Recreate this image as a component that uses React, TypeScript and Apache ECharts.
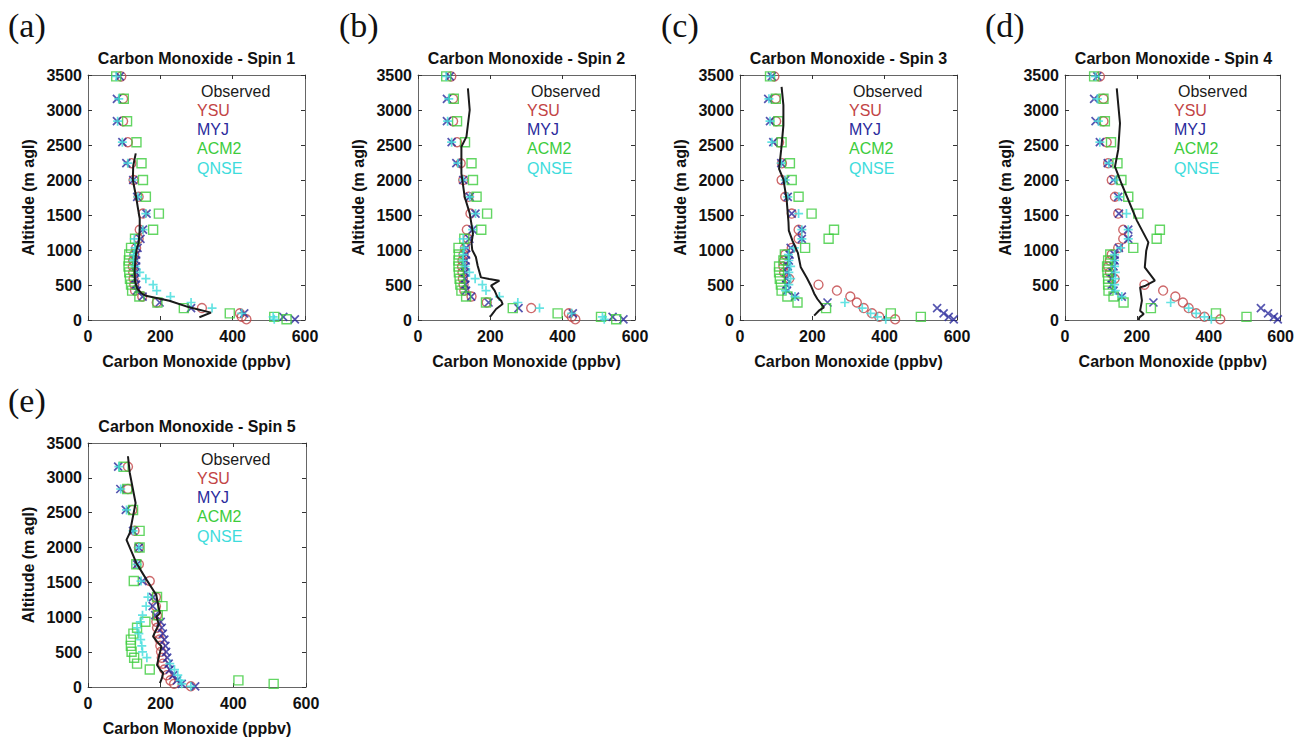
import React, { useEffect, useRef } from "react";
import * as echarts from "echarts";

// Model levels (m agl) shared by all WRF PBL schemes
const LEVELS = [10, 45, 95, 170, 250, 335, 420, 505, 590, 680, 765, 850, 935, 1030, 1160, 1290, 1520, 1760, 2000, 2240, 2540, 2840, 3160, 3480];

const X_MIN = 0, X_MAX = 600, X_STEP = 200;
const Y_MIN = 0, Y_MAX = 3500, Y_STEP = 500;

const SERIES_NAMES = ["Observed", "YSU", "MYJ", "ACM2", "QNSE"];
const PANEL_TAGS = ["(a)", "(b)", "(c)", "(d)", "(e)"];
const PANEL_TITLES = [
  "Carbon Monoxide - Spin 1",
  "Carbon Monoxide - Spin 2",
  "Carbon Monoxide - Spin 3",
  "Carbon Monoxide - Spin 4",
  "Carbon Monoxide - Spin 5",
];
const X_NAME = "Carbon Monoxide (ppbv)";
const Y_NAME = "Altitude (m agl)";

// Spin 1
const YSU1 = [438, 425, 420, 315, 190, 150, 130, 128, 126, 125, 124, 125, 128, 133, 140, 143, 152, 140, 126, 120, 110, 97, 97, 92];
const MYJ1 = [572, 540, 432, 285, 198, 151, 135, 133, 131, 132, 133, 133, 133, 137, 145, 152, 162, 136, 125, 106, 95, 80, 80, 88];
const ACM2_1 = [549, 515, 392, 265, 192, 142, 122, 119, 116, 114, 112, 113, 114, 119, 130, 180, 196, 160, 152, 148, 134, 108, 99, 78];
const QNSE1 = [515, 512, 425, 343, 285, 228, 190, 180, 160, 143, 130, 126, 126, 130, 128, 152, 160, 138, 125, 110, 95, 82, 85, 78];
const OBS1_CO = [132, 125, 124, 133, 138, 143, 143, 140, 134, 131, 129, 130, 136, 148, 160, 225, 280, 340, 308];
const OBS1_ALT = [2380, 2200, 2000, 1760, 1600, 1450, 1290, 1100, 1000, 850, 700, 550, 450, 380, 345, 276, 181, 105, 40];

// Spin 2
const YSU2 = [435, 425, 417, 313, 190, 148, 128, 126, 124, 123, 122, 123, 126, 130, 138, 135, 145, 140, 125, 118, 108, 97, 97, 92];
const MYJ2 = [568, 538, 428, 278, 195, 147, 133, 131, 130, 130, 131, 132, 133, 133, 142, 151, 159, 143, 125, 106, 93, 80, 80, 88];
const ACM2_2 = [548, 506, 386, 262, 188, 133, 120, 117, 115, 113, 112, 112, 113, 112, 128, 175, 191, 162, 152, 148, 130, 108, 99, 78];
const QNSE2 = [515, 510, 425, 336, 276, 225, 188, 178, 158, 142, 130, 125, 125, 128, 125, 151, 159, 143, 125, 110, 93, 82, 85, 78];
const OBS2_CO = [138, 143, 134, 120, 120, 129, 143, 152, 148, 150, 160, 165, 174, 197, 225, 202, 212, 220, 230, 234, 216, 202, 198];
const OBS2_ALT = [3310, 3000, 2620, 2475, 2094, 1761, 1523, 1238, 1100, 1000, 900, 776, 609, 585, 562, 490, 420, 324, 276, 228, 157, 62, 45];

// Spin 3
const YSU3 = [429, 385, 365, 342, 323, 305, 268, 217, 136, 122, 120, 122, 125, 143, 162, 162, 143, 125, 115, 116, 108, 100, 99, 95];
const MYJ3 = [591, 577, 563, 545, 242, 152, 130, 128, 128, 130, 132, 135, 137, 140, 171, 171, 143, 132, 125, 114, 92, 83, 78, 88];
const ACM2_3 = [null, 500, 417, 238, 159, 131, 115, 113, 110, 108, 108, 120, 124, 180, 245, 260, 198, 162, 143, 138, 115, 106, 99, 83];
const QNSE3 = [403, 380, 361, 338, 290, 152, 126, 135, 140, 135, 140, 135, 134, 150, 171, 171, 162, 132, 125, 114, 88, 83, 80, 85];
const OBS3_CO = [115, 120, 120, 114, 108, 120, 129, 134, 135, 145, 160, 168, 185, 196, 205, 214, 232, 218, 205];
const OBS3_ALT = [3330, 3070, 2780, 2440, 2160, 2010, 1720, 1400, 1276, 1133, 960, 752, 600, 490, 380, 300, 181, 133, 62];

// Spin 4
const YSU4 = [432, 388, 365, 344, 328, 307, 273, 221, 138, 125, 120, 125, 130, 148, 162, 162, 148, 139, 130, 120, 116, 107, 107, 97];
const MYJ4 = [592, 581, 565, 545, 246, 158, 135, 130, 130, 132, 135, 138, 138, 150, 176, 176, 150, 148, 135, 119, 97, 85, 81, 90];
const ACM2_4 = [null, 505, 420, 239, 163, 135, 121, 120, 120, 118, 117, 120, 126, 190, 255, 264, 204, 176, 157, 146, 128, 111, 107, 81];
const QNSE4 = [407, 388, 365, 344, 294, 158, 140, 138, 140, 140, 138, 138, 138, 155, 176, 176, 171, 150, 140, 122, 97, 93, 90, 85];
const OBS4_CO = [144, 153, 148, 139, 157, 177, 200, 232, 226, 222, 250, 224, 209, 214, 209, 219, 207, 205];
const OBS4_ALT = [3310, 2810, 2430, 2190, 1950, 1705, 1420, 1109, 990, 752, 562, 490, 466, 276, 133, 86, 38, 0];

// Spin 5
const YSU5 = [283, 237, 227, 217, 210, 206, 203, 201, 199, 197, 194, 190, 188, 190, 187, 187, 170, 140, 140, 128, 122, 110, 110, null];
const MYJ5 = [295, 258, 245, 235, 225, 222, 218, 215, 213, 210, 206, 203, 200, 185, 178, 179, 150, 135, 140, 124, 104, 89, 83, null];
const ACM2_5 = [null, 511, 414, null, 170, 135, 127, 120, 118, 118, 125, 135, 158, 192, 205, 190, 126, 133, 142, 142, 124, 108, 98, null];
const QNSE5 = [283, 258, 254, 247, 238, 225, 162, 150, 148, 145, 140, 135, 144, 150, 160, 165, 146, 135, 140, 124, 106, 90, 85, null];
const OBS5_CO = [110, 115, 131, 115, 106, 133, 161, 188, 192, 198, 188, 195, 179, 190, 202, 196, 190, 199, 207, 203, 198];
const OBS5_ALT = [3310, 3070, 2640, 2210, 2110, 1780, 1540, 1320, 1200, 1060, 1008, 900, 726, 650, 583, 450, 315, 244, 201, 120, 57];

const PANEL_DATA = [
  { ysu: YSU1, myj: MYJ1, acm2: ACM2_1, qnse: QNSE1, obsCo: OBS1_CO, obsAlt: OBS1_ALT },
  { ysu: YSU2, myj: MYJ2, acm2: ACM2_2, qnse: QNSE2, obsCo: OBS2_CO, obsAlt: OBS2_ALT },
  { ysu: YSU3, myj: MYJ3, acm2: ACM2_3, qnse: QNSE3, obsCo: OBS3_CO, obsAlt: OBS3_ALT },
  { ysu: YSU4, myj: MYJ4, acm2: ACM2_4, qnse: QNSE4, obsCo: OBS4_CO, obsAlt: OBS4_ALT },
  { ysu: YSU5, myj: MYJ5, acm2: ACM2_5, qnse: QNSE5, obsCo: OBS5_CO, obsAlt: OBS5_ALT },
];

// Layout (pixels)
const LAYOUT = [
  { left: 88, top: 75, width: 217, height: 245, tagX: 8, tagY: 27 },
  { left: 418, top: 75, width: 217, height: 245, tagX: 339, tagY: 27 },
  { left: 740, top: 75, width: 217, height: 245, tagX: 661, tagY: 27 },
  { left: 1065, top: 75, width: 217, height: 245, tagX: 985, tagY: 27 },
  { left: 88, top: 443, width: 218, height: 244, tagX: 8, tagY: 402 },
];

const COLORS = {
  Observed: "#1a1a1a",
  YSU: "#c24446",
  MYJ: "#2a2a9c",
  ACM2: "#3ccc3c",
  QNSE: "#3edcdc",
};

const SANS = "'Liberation Sans', Arial, Helvetica, sans-serif";
const SERIF = "'Liberation Serif', 'Times New Roman', serif";

const X_SYMBOL = "path://M0,0L10,10M0,10L10,0";
const PLUS_SYMBOL = "path://M5,0L5,10M0,5L10,5";

function pairs(vals: (number | null)[]) {
  const out: number[][] = [];
  vals.forEach((v, k) => {
    if (v !== null && v !== undefined) out.push([v, LEVELS[k]]);
  });
  return out;
}

function buildOption() {
  const grid: any[] = [];
  const xAxis: any[] = [];
  const yAxis: any[] = [];
  const series: any[] = [];
  const graphic: any[] = [];

  const tickStyle = { color: "#333", width: 1 };
  const lineStyle = { color: "#666", width: 1 };
  const plain = (v: number) => String(v);

  PANEL_DATA.forEach((p, i) => {
    const L = LAYOUT[i];
    grid.push({ left: L.left, top: L.top, width: L.width, height: L.height, containLabel: false, show: false });

    const baseX = {
      type: "value", gridIndex: i, min: X_MIN, max: X_MAX, interval: X_STEP,
      splitLine: { show: false },
      axisLine: { show: true, onZero: false, lineStyle },
      axisTick: { show: true, inside: true, length: 4, lineStyle: tickStyle },
    };
    const baseY = {
      type: "value", gridIndex: i, min: Y_MIN, max: Y_MAX, interval: Y_STEP,
      splitLine: { show: false },
      axisLine: { show: true, onZero: false, lineStyle },
      axisTick: { show: true, inside: true, length: 4, lineStyle: tickStyle },
    };
    xAxis.push({
      ...baseX, position: "bottom",
      axisLabel: { show: true, color: "#111", fontSize: 16, fontWeight: "bold", fontFamily: SANS, margin: 8, formatter: plain },
      name: X_NAME, nameLocation: "middle", nameGap: 33,
      nameTextStyle: { color: "#111", fontSize: 16, fontWeight: "bold", fontFamily: SANS },
    });
    xAxis.push({ ...baseX, position: "top", axisLabel: { show: false } });
    yAxis.push({
      ...baseY, position: "left",
      axisLabel: { show: true, color: "#111", fontSize: 16, fontWeight: "bold", fontFamily: SANS, margin: 6, formatter: plain },
      name: Y_NAME, nameLocation: "middle", nameGap: 52, nameRotate: 90,
      nameTextStyle: { color: "#111", fontSize: 16, fontWeight: "bold", fontFamily: SANS },
    });
    yAxis.push({ ...baseY, position: "right", axisLabel: { show: false } });

    const xi = 2 * i, yi = 2 * i;
    series.push({
      type: "scatter", name: "YSU", xAxisIndex: xi, yAxisIndex: yi, data: pairs(p.ysu),
      symbol: "circle", symbolSize: 9,
      itemStyle: { color: "rgba(0,0,0,0)", borderColor: COLORS.YSU, borderWidth: 1.4 },
    });
    series.push({
      type: "scatter", name: "MYJ", xAxisIndex: xi, yAxisIndex: yi, data: pairs(p.myj),
      symbol: X_SYMBOL, symbolSize: 8,
      itemStyle: { color: "none", borderColor: COLORS.MYJ, borderWidth: 1.7 },
    });
    series.push({
      type: "scatter", name: "ACM2", xAxisIndex: xi, yAxisIndex: yi, data: pairs(p.acm2),
      symbol: "rect", symbolSize: 9,
      itemStyle: { color: "rgba(0,0,0,0)", borderColor: COLORS.ACM2, borderWidth: 1.4 },
    });
    series.push({
      type: "scatter", name: "QNSE", xAxisIndex: xi, yAxisIndex: yi, data: pairs(p.qnse),
      symbol: PLUS_SYMBOL, symbolSize: 9,
      itemStyle: { color: "none", borderColor: COLORS.QNSE, borderWidth: 1.7 },
    });
    series.push({
      type: "line", name: "Observed", xAxisIndex: xi, yAxisIndex: yi,
      data: p.obsCo.map((c, k) => [c, p.obsAlt[k]]),
      showSymbol: false, symbol: "none", smooth: false,
      lineStyle: { color: COLORS.Observed, width: 2 },
      z: 3,
    });

    // panel tag
    graphic.push({
      type: "text", left: L.tagX, top: L.tagY - 19,
      style: { text: PANEL_TAGS[i], fontSize: 34, fontFamily: SERIF, fill: "#111" },
    });
    // title
    graphic.push({
      type: "text", x: L.left + L.width / 2, y: L.top - 17,
      style: {
        text: PANEL_TITLES[i], fontSize: 16, fontWeight: "bold", fontFamily: SANS, fill: "#111",
        textAlign: "center", textVerticalAlign: "middle",
      },
    });
    // legend text
    const offs = [16, 35, 54, 73, 93];
    SERIES_NAMES.forEach((nm, k) => {
      graphic.push({
        type: "text", x: L.left + (k === 0 ? 113 : 109), y: L.top + offs[k],
        style: {
          text: nm, fontSize: 16, fontFamily: SANS, fill: (COLORS as any)[nm],
          textAlign: "left", textVerticalAlign: "middle",
        },
        z: 10,
      });
    });
  });

  return {
    animation: false,
    backgroundColor: "#ffffff",
    grid, xAxis, yAxis, series, graphic,
  };
}

export default function App() {
  const ref = useRef<HTMLDivElement>(null);
  useEffect(() => {
    if (!ref.current) return;
    const chart = echarts.init(ref.current, undefined, { renderer: "svg" });
    chart.setOption(buildOption() as any);
    return () => chart.dispose();
  }, []);
  return (
    <div
      ref={ref}
      style={{ position: "absolute", left: 0, top: 0, width: 1297, height: 738, background: "#fff" }}
    />
  );
}
